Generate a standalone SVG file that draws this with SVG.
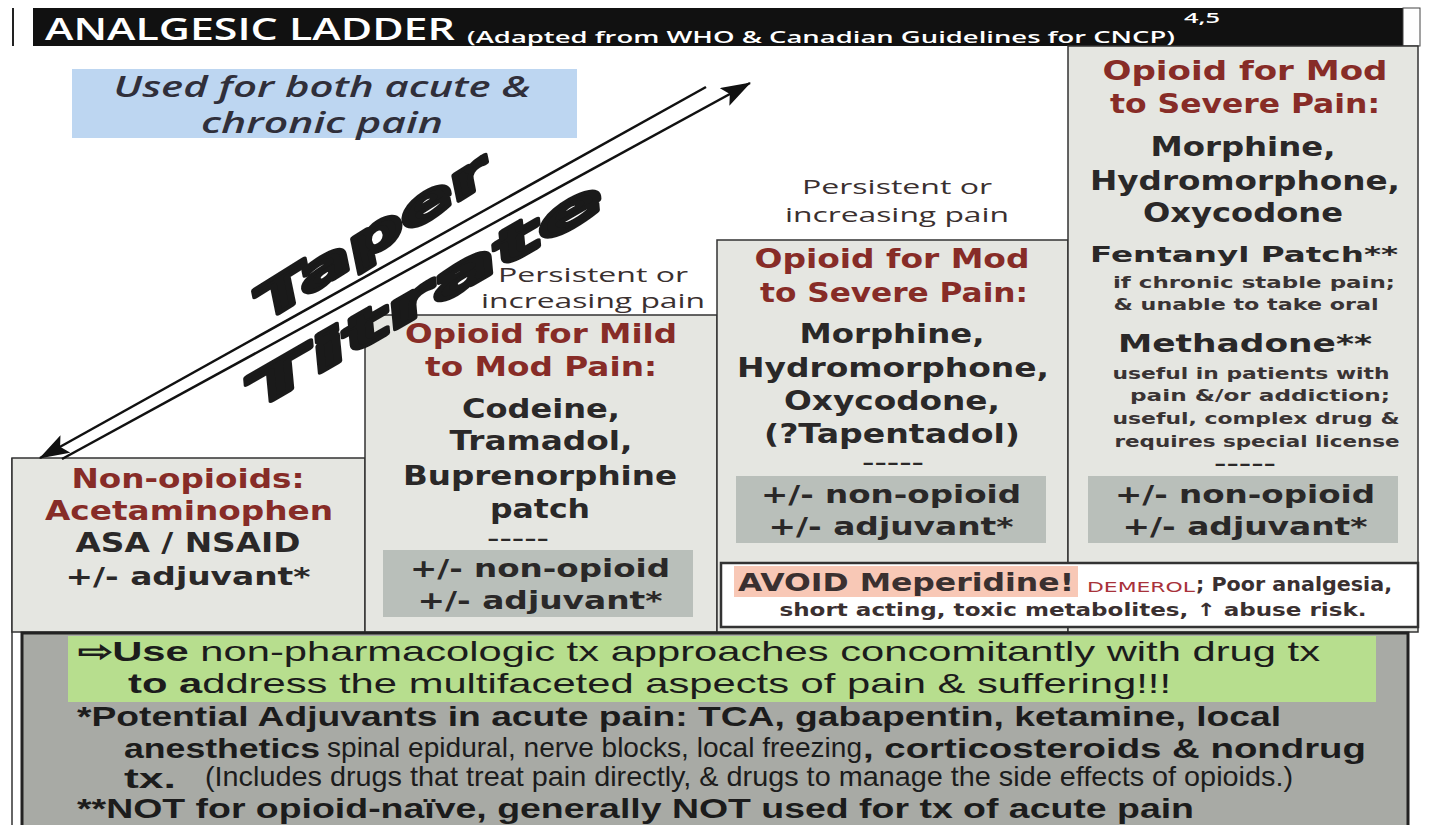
<svg xmlns="http://www.w3.org/2000/svg" width="1429" height="825" viewBox="0 0 1429 825">
<defs>
<marker id="ah2" viewBox="0 0 30 20" refX="29" refY="10" markerWidth="30" markerHeight="20" markerUnits="userSpaceOnUse" orient="auto">
<path d="M0,0 L30,10 L0,20 L6,10 z" fill="#111"/>
</marker>
</defs>
<style>
.bx{fill:#e5e6e1;stroke:#333;stroke-width:1.5}
.sub{fill:#b9bfba}
.red{font-family:"DejaVu Sans",sans-serif;font-weight:bold;fill:#872c27;text-anchor:middle}
.drk{font-family:"DejaVu Sans",sans-serif;font-weight:bold;fill:#2a2828;text-anchor:middle}
.sm{font-family:"DejaVu Sans",sans-serif;font-weight:bold;fill:#3a3434;text-anchor:middle}
.per{font-family:"Open Sans",sans-serif;font-size:20px;fill:#3a3030;text-anchor:middle}
.bot{font-family:"Liberation Sans",sans-serif;font-size:28px;fill:#1c1c1c}
.bb{font-weight:bold}
.tt{font-family:"DejaVu Sans",sans-serif;font-weight:bold;font-style:oblique;fill:#1a1a1a;stroke:#1a1a1a;stroke-width:4;stroke-linejoin:round;text-anchor:middle}
</style>

<!-- header -->
<g id="header">
<line x1="13" y1="8" x2="13" y2="46" stroke="#222" stroke-width="2"/>
<rect x="33" y="8" width="1370" height="38" fill="#111"/>
<rect x="1403" y="8" width="17" height="38" fill="#fff" stroke="#444" stroke-width="1"/>
<text x="45" y="40" font-family="Open Sans, sans-serif" font-weight="600" font-size="31" fill="#fff" textLength="410" lengthAdjust="spacingAndGlyphs">ANALGESIC LADDER</text>
<text x="467" y="43" font-family="Open Sans, sans-serif" font-weight="600" font-size="17" fill="#fff" textLength="708" lengthAdjust="spacingAndGlyphs">(Adapted from WHO &amp; Canadian Guidelines for CNCP)</text>
<text x="1184" y="23" font-family="Open Sans, sans-serif" font-weight="600" font-size="15" fill="#fff" textLength="36" lengthAdjust="spacingAndGlyphs">4,5</text>
</g>

<!-- page border lines -->
<g id="frame">
<line x1="12" y1="458" x2="12" y2="825" stroke="#333" stroke-width="1.5"/>
</g>

<!-- blue note -->
<g id="note">
<rect x="72" y="69" width="505" height="69" fill="#bdd6f1"/>
<text x="322" y="97" font-family="Open Sans, sans-serif" font-style="italic" font-weight="600" font-size="28" fill="#302f3a" text-anchor="middle" textLength="417" lengthAdjust="spacingAndGlyphs">Used for both acute &amp;</text>
<text x="322" y="133" font-family="Open Sans, sans-serif" font-style="italic" font-weight="600" font-size="28" fill="#302f3a" text-anchor="middle" textLength="242" lengthAdjust="spacingAndGlyphs">chronic pain</text>
</g>

<!-- step 1 -->
<g id="step1">
<rect class="bx" x="12" y="458" width="353" height="174"/>
<text class="red" x="188" y="488" font-size="26" textLength="233" lengthAdjust="spacingAndGlyphs">Non-opioids:</text>
<text class="red" x="189" y="520" font-size="26" textLength="288" lengthAdjust="spacingAndGlyphs">Acetaminophen</text>
<text class="drk" x="188" y="552" font-size="26" textLength="225" lengthAdjust="spacingAndGlyphs">ASA / NSAID</text>
<text class="drk" x="188" y="585" font-size="25" textLength="245" lengthAdjust="spacingAndGlyphs">+/- adjuvant*</text>
</g>

<!-- step 2 -->
<g id="step2">
<rect class="bx" x="365" y="315" width="352" height="317"/>
<text class="per" x="593" y="282" textLength="190" lengthAdjust="spacingAndGlyphs">Persistent or</text>
<text class="per" x="593" y="308" textLength="224" lengthAdjust="spacingAndGlyphs">increasing pain</text>
<text class="red" x="541" y="343" font-size="26" textLength="272" lengthAdjust="spacingAndGlyphs">Opioid for Mild</text>
<text class="red" x="541" y="376" font-size="26" textLength="232" lengthAdjust="spacingAndGlyphs">to Mod Pain:</text>
<text class="drk" x="541" y="418" font-size="26" textLength="158" lengthAdjust="spacingAndGlyphs">Codeine,</text>
<text class="drk" x="541" y="450" font-size="26" textLength="183" lengthAdjust="spacingAndGlyphs">Tramadol,</text>
<text class="drk" x="540" y="485" font-size="26" textLength="274" lengthAdjust="spacingAndGlyphs">Buprenorphine</text>
<text class="drk" x="540" y="518" font-size="26" textLength="100" lengthAdjust="spacingAndGlyphs">patch</text>
<text class="drk" x="518" y="544" font-size="16" textLength="62" lengthAdjust="spacingAndGlyphs">-----</text>
<rect class="sub" x="383" y="550" width="310" height="67"/>
<text class="drk" x="540" y="577" font-size="25" textLength="260" lengthAdjust="spacingAndGlyphs">+/- non-opioid</text>
<text class="drk" x="540" y="609" font-size="25" textLength="245" lengthAdjust="spacingAndGlyphs">+/- adjuvant*</text>
</g>

<!-- step 3 -->
<g id="step3">
<rect class="bx" x="717" y="240" width="351" height="392"/>
<text class="per" x="897" y="194" textLength="190" lengthAdjust="spacingAndGlyphs">Persistent or</text>
<text class="per" x="897" y="222" textLength="224" lengthAdjust="spacingAndGlyphs">increasing pain</text>
<text class="red" x="892" y="268" font-size="26" textLength="275" lengthAdjust="spacingAndGlyphs">Opioid for Mod</text>
<text class="red" x="894" y="302" font-size="26" textLength="268" lengthAdjust="spacingAndGlyphs">to Severe Pain:</text>
<text class="drk" x="892" y="343" font-size="26" textLength="185" lengthAdjust="spacingAndGlyphs">Morphine,</text>
<text class="drk" x="893" y="377" font-size="26" textLength="312" lengthAdjust="spacingAndGlyphs">Hydromorphone,</text>
<text class="drk" x="892" y="410" font-size="26" textLength="216" lengthAdjust="spacingAndGlyphs">Oxycodone,</text>
<text class="drk" x="892" y="443" font-size="26" textLength="256" lengthAdjust="spacingAndGlyphs">(?Tapentadol)</text>
<text class="drk" x="893" y="468" font-size="16" textLength="62" lengthAdjust="spacingAndGlyphs">-----</text>
<rect class="sub" x="736" y="476" width="310" height="67"/>
<text class="drk" x="891" y="503" font-size="25" textLength="260" lengthAdjust="spacingAndGlyphs">+/- non-opioid</text>
<text class="drk" x="891" y="535" font-size="25" textLength="245" lengthAdjust="spacingAndGlyphs">+/- adjuvant*</text>
</g>

<!-- step 4 -->
<g id="step4">
<rect class="bx" x="1068" y="46" width="350" height="586"/>
<text class="red" x="1245" y="80" font-size="27" textLength="285" lengthAdjust="spacingAndGlyphs">Opioid for  Mod</text>
<text class="red" x="1245" y="113" font-size="27" textLength="270" lengthAdjust="spacingAndGlyphs">to Severe Pain:</text>
<text class="drk" x="1243" y="156" font-size="26" textLength="185" lengthAdjust="spacingAndGlyphs">Morphine,</text>
<text class="drk" x="1245" y="190" font-size="26" textLength="310" lengthAdjust="spacingAndGlyphs">Hydromorphone,</text>
<text class="drk" x="1243" y="222" font-size="26" textLength="200" lengthAdjust="spacingAndGlyphs">Oxycodone</text>
<text class="drk" x="1244" y="262" font-size="22" textLength="308" lengthAdjust="spacingAndGlyphs">Fentanyl Patch**</text>
<text class="sm" x="1254" y="288" font-size="16" textLength="282" lengthAdjust="spacingAndGlyphs">if chronic stable pain;</text>
<text class="sm" x="1246" y="310" font-size="16" textLength="265" lengthAdjust="spacingAndGlyphs">&amp; unable to take oral</text>
<text class="drk" x="1245" y="352" font-size="25" textLength="254" lengthAdjust="spacingAndGlyphs">Methadone**</text>
<text class="sm" x="1251" y="379" font-size="16" textLength="277" lengthAdjust="spacingAndGlyphs">useful in patients with</text>
<text class="sm" x="1260" y="401" font-size="16" textLength="260" lengthAdjust="spacingAndGlyphs">pain &amp;/or  addiction;</text>
<text class="sm" x="1256" y="424" font-size="16" textLength="287" lengthAdjust="spacingAndGlyphs">useful, complex drug &amp;</text>
<text class="sm" x="1257" y="447" font-size="16" textLength="285" lengthAdjust="spacingAndGlyphs">requires special license</text>
<text class="drk" x="1245" y="469" font-size="16" textLength="62" lengthAdjust="spacingAndGlyphs">-----</text>
<rect class="sub" x="1088" y="476" width="310" height="67"/>
<text class="drk" x="1245" y="503" font-size="25" textLength="260" lengthAdjust="spacingAndGlyphs">+/- non-opioid</text>
<text class="drk" x="1245" y="535" font-size="25" textLength="245" lengthAdjust="spacingAndGlyphs">+/- adjuvant*</text>
</g>

<!-- avoid meperidine -->
<g id="avoid">
<rect x="721" y="563" width="697" height="64" fill="#fff" stroke="#333" stroke-width="2.5"/>
<rect x="734" y="566" width="344" height="31" fill="#f8c8b6"/>
<text x="738" y="591" font-family="DejaVu Sans, sans-serif" font-weight="bold" font-size="25" fill="#3a3030" textLength="336" lengthAdjust="spacingAndGlyphs">AVOID Meperidine!</text>
<text x="1087" y="592" font-family="DejaVu Sans, sans-serif" font-size="14" fill="#a8323a" textLength="108" lengthAdjust="spacingAndGlyphs">DEMEROL</text>
<text x="1196" y="591" font-family="DejaVu Sans, sans-serif" font-weight="bold" font-size="19" fill="#3a3030" textLength="196" lengthAdjust="spacingAndGlyphs">; Poor analgesia,</text>
<text x="1073" y="616" font-family="DejaVu Sans, sans-serif" font-weight="bold" font-size="18" fill="#3a3030" text-anchor="middle" textLength="587" lengthAdjust="spacingAndGlyphs">short acting, toxic metabolites, ↑ abuse risk.</text>
</g>

<!-- bottom panel -->
<g id="notes">
<rect x="22" y="633" width="1386" height="196" fill="#a8aaa5" stroke="#222" stroke-width="3"/>
<rect x="68" y="636" width="1308" height="66" fill="#b7de8e"/>
<text class="bot" x="78" y="661" textLength="1242" lengthAdjust="spacingAndGlyphs"><tspan class="bb">⇨Use</tspan> non-pharmacologic tx approaches concomitantly with drug tx</text>
<text class="bot" x="128" y="693" textLength="1043" lengthAdjust="spacingAndGlyphs"><tspan class="bb">to a</tspan>ddress the multifaceted aspects of pain &amp; suffering!!!</text>
<text class="bot bb" x="77" y="726" textLength="1204" lengthAdjust="spacingAndGlyphs">*Potential Adjuvants in acute pain: TCA, gabapentin, ketamine, local</text>
<text class="bot bb" x="124" y="758" textLength="196" lengthAdjust="spacingAndGlyphs">anesthetics</text>
<text class="bot" x="327" y="757" font-size="17" textLength="535" lengthAdjust="spacingAndGlyphs">spinal epidural, nerve blocks, local freezing</text>
<text class="bot bb" x="863" y="758" textLength="503" lengthAdjust="spacingAndGlyphs">, corticosteroids &amp; nondrug</text>
<text class="bot bb" x="124" y="788" textLength="52" lengthAdjust="spacingAndGlyphs">tx.</text>
<text class="bot" x="205" y="786" font-size="16" textLength="1088" lengthAdjust="spacingAndGlyphs">(Includes drugs that treat pain directly, &amp; drugs to manage the side effects of opioids.)</text>
<text class="bot bb" x="77" y="818" textLength="1117" lengthAdjust="spacingAndGlyphs">**NOT for opioid-naïve, generally NOT used for tx of acute pain</text>
</g>

<!-- connectors: taper / titrate arrows -->
<g id="connectors">
<line x1="706" y1="87" x2="40" y2="458" stroke="#111" stroke-width="2.5" marker-end="url(#ah2)"/>
<line x1="62" y1="459" x2="750" y2="83" stroke="#111" stroke-width="2.5" marker-end="url(#ah2)"/>
</g>

<g id="taper-titrate">
<text class="tt" font-size="45" transform="translate(380,250) rotate(-32)" textLength="268" lengthAdjust="spacingAndGlyphs">Taper</text>
<text class="tt" font-size="45" transform="translate(432,308) rotate(-30)" textLength="405" lengthAdjust="spacingAndGlyphs">Titrate</text>
</g>
</svg>
